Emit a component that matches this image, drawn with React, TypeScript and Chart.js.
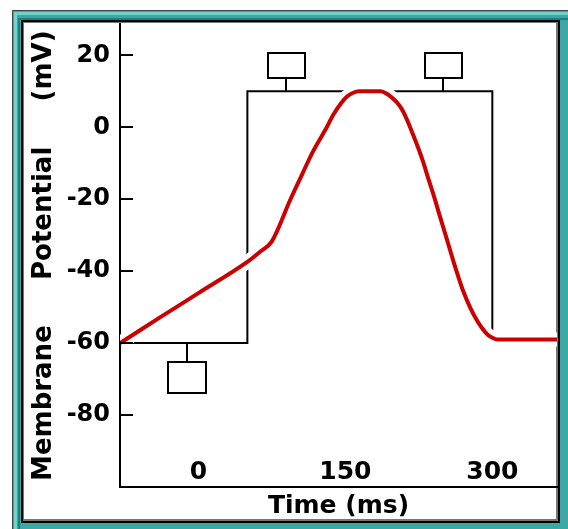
import React, { useEffect, useRef } from 'react';
import { Chart, registerables } from 'chart.js';

Chart.register(...registerables);

// ---- data ----
const timeMs = [-80, -40, 0, 51, 63, 75, 94, 106, 117, 130, 138, 146, 152, 158, 164, 175, 186, 191, 196, 203, 209, 214, 219, 224, 229, 234, 240, 247, 254, 260, 265, 270, 278, 285, 290, 295, 300, 305, 366];
const membraneMv = [-60, -53, -46.1, -37.2, -34.6, -31.7, -20, -13, -6.7, -0.5, 3.6, 6.8, 8.6, 9.6, 10, 10, 10, 9.5, 8.6, 6.8, 4.4, 1.4, -2, -5.5, -9.3, -13.7, -18.8, -25.2, -31.5, -37, -41.3, -45.3, -50.5, -54, -56, -57.6, -58.5, -59, -59];

const stimulusTimes = [-80, 50, 50, 300, 300];
const stimulusLevels = [-60, -60, 10, 10, -56.5];

const markerTimes = [89, 250, -12];
const markerLevels = [10, 10, -60];
const markerSides = ['up', 'up', 'down'];

const xTickValues = [0, 150, 300];
const yTickValues = [20, 0, -20, -40, -60, -80];
const xRange = [-80, 366];
const yRange = [-100, 28.6];

const FONT = 'DejaVu Sans';

const framePlugin = {
  id: 'frame',
  beforeDraw(chart: any) {
    const ctx = chart.ctx;
    const W = chart.width;
    const H = chart.height;
    ctx.save();
    ctx.fillStyle = '#ffffff';
    ctx.fillRect(0, 0, W, H);
    // teal frame
    ctx.fillStyle = '#3aa8a4';
    ctx.fillRect(12, 10, W - 12, H - 10);
    ctx.fillStyle = '#444';
    ctx.fillRect(12, 10, W - 12, 1);
    ctx.fillRect(12, 10, 1, H - 10);
    ctx.fillStyle = '#6fd2cd';
    ctx.fillRect(14, 12, W - 14, 3);
    ctx.fillRect(14, 12, 3, H - 12);
    ctx.fillStyle = '#1f7f7b';
    ctx.fillRect(18, 18, W - 18, 2);
    ctx.fillRect(18, 18, 2, H - 18);
    // inner black edge
    ctx.fillStyle = '#000';
    ctx.fillRect(21, 20, 539, 503);
    ctx.fillStyle = '#777';
    ctx.fillRect(23, 22, 535, 499);
    ctx.fillStyle = '#ffffff';
    ctx.fillRect(24, 23, 532, 496);
    ctx.restore();
  },
  afterDatasetsDraw(chart: any) {
    const ctx = chart.ctx;
    const xs = chart.scales.x;
    const ys = chart.scales.y;
    ctx.save();
    ctx.strokeStyle = '#000';
    ctx.lineWidth = 2;
    ctx.fillStyle = '#fff';
    for (let i = 0; i < markerTimes.length; i++) {
      const px = Math.round(xs.getPixelForValue(markerTimes[i]));
      const py = Math.round(ys.getPixelForValue(markerLevels[i]));
      if (markerSides[i] === 'up') {
        ctx.beginPath();
        ctx.moveTo(px, py);
        ctx.lineTo(px, py - 13);
        ctx.stroke();
        ctx.fillRect(px - 18, py - 38, 37, 25);
        ctx.strokeRect(px - 18, py - 38, 37, 25);
      } else {
        ctx.beginPath();
        ctx.moveTo(px, py);
        ctx.lineTo(px, py + 19);
        ctx.stroke();
        ctx.fillRect(px - 19, py + 19, 38, 31);
        ctx.strokeRect(px - 19, py + 19, 38, 31);
      }
    }
    ctx.restore();
  },
  afterDraw(chart: any) {
    const ctx = chart.ctx;
    const ys = chart.scales.y;
    const left = chart.chartArea.left;
    ctx.save();
    ctx.strokeStyle = '#000';
    ctx.lineWidth = 2;
    for (const v of yTickValues) {
      const py = Math.round(ys.getPixelForValue(v));
      ctx.beginPath();
      ctx.moveTo(left, py);
      ctx.lineTo(left + 13, py);
      ctx.stroke();
    }
    ctx.restore();
  },
};

export default function App() {
  const ref = useRef<HTMLCanvasElement | null>(null);

  useEffect(() => {
    if (!ref.current) return;
    const curve = timeMs.map((t, i) => ({ x: t, y: membraneMv[i] }));
    const stim = stimulusTimes.map((t, i) => ({ x: t, y: stimulusLevels[i] }));
    const chart = new Chart(ref.current, {
      type: 'line',
      data: {
        datasets: [
          {
            data: curve,
            borderColor: '#cc0000',
            borderWidth: 4,
            pointRadius: 0,
            cubicInterpolationMode: 'monotone',
            clip: 0,
          },
          {
            data: curve,
            borderColor: '#ffffff',
            borderWidth: 14,
            pointRadius: 0,
            cubicInterpolationMode: 'monotone',
            clip: 0,
          },
          {
            data: stim,
            borderColor: '#000000',
            borderWidth: 2,
            pointRadius: 0,
            tension: 0,
            clip: 0,
          },
        ],
      } as any,
      options: {
        animation: false,
        responsive: false,
        devicePixelRatio: 1,
        events: [],
        layout: { padding: { left: 24, top: 23, right: 11, bottom: 10 } },
        plugins: { legend: { display: false }, tooltip: { enabled: false } },
        scales: {
          x: {
            type: 'linear',
            min: xRange[0],
            max: xRange[1],
            z: 1,
            afterBuildTicks: (s: any) => {
              s.ticks = xTickValues.map((v) => ({ value: v }));
            },
            afterFit: (s: any) => {
              s.height = 32;
            },
            grid: { display: true, drawOnChartArea: false, drawTicks: false },
            border: { display: true, color: '#000', width: 2 },
            ticks: {
              autoSkip: false,
              maxRotation: 0,
              mirror: true,
              padding: 0,
              color: '#000',
              font: { family: FONT, weight: 'bold', size: 25 },
              callback: (v: any) => String(v),
            },
            title: {
              display: true,
              text: 'Time (ms)',
              color: '#000',
              font: { family: FONT, weight: 'bold', size: 25, lineHeight: 1 },
              padding: { top: 0, bottom: 0 },
            },
          },
          y: {
            type: 'linear',
            min: yRange[0],
            max: yRange[1],
            z: 1,
            afterBuildTicks: (s: any) => {
              s.ticks = yTickValues.map((v) => ({ value: v }));
            },
            afterFit: (s: any) => {
              s.width = 96;
            },
            grid: { display: true, drawOnChartArea: false, drawTicks: false },
            border: { display: true, color: '#000', width: 2 },
            ticks: {
              autoSkip: false,
              padding: 10,
              color: '#000',
              font: { family: FONT, weight: 'bold', size: 24 },
              callback: (v: any) => String(v),
            },
            title: {
              display: true,
              text: 'Membrane     Potential     (mV)',
              color: '#000',
              font: { family: FONT, weight: 'bold', size: 26, lineHeight: 1 },
              padding: { top: 7, bottom: 0 },
            },
          },
        },
      } as any,
      plugins: [framePlugin],
    });
    return () => chart.destroy();
  }, []);

  return (
    <div style={{ position: 'absolute', left: 0, top: 0, width: 568, height: 529 }}>
      <canvas ref={ref} width={568} height={529} />
    </div>
  );
}
